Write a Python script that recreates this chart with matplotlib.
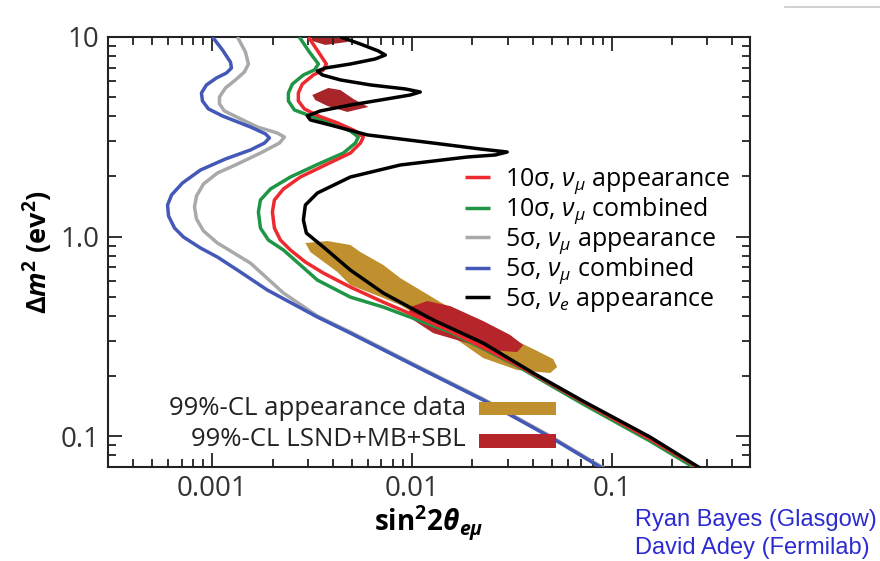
import matplotlib
matplotlib.use('Agg')
import matplotlib.pyplot as plt
from matplotlib.patches import Polygon, Rectangle
from matplotlib.lines import Line2D

plt.rcParams['font.family'] = ['Open Sans', 'DejaVu Sans']
plt.rcParams['mathtext.fontset'] = 'custom'
plt.rcParams['mathtext.rm'] = 'Open Sans'
plt.rcParams['mathtext.it'] = 'Open Sans:italic'
plt.rcParams['mathtext.bf'] = 'Open Sans:bold'
plt.rcParams['mathtext.bfit'] = 'Open Sans:italic:bold'

# sensitivity contours (sin^2 2theta, dm^2)
blue_x = [0.00100, 0.001122, 0.001230, 0.001245, 0.001175, 0.001047, 0.000933, 0.000881,
          0.000891, 0.000955, 0.001122, 0.001549, 0.001841, 0.001928, 0.001820, 0.001549,
          0.001161, 0.000871, 0.000708, 0.000624, 0.000596, 0.000603, 0.000646, 0.000716,
          0.000871, 0.001059, 0.001380, 0.001884, 0.00335, 0.00490, 0.01059, 0.02265,
          0.0490, 0.0871, 0.0977]
blue_y = [10.0, 8.61, 7.49, 6.99, 6.60, 6.23, 5.75, 5.24, 4.78, 4.36, 4.02, 3.54, 3.27,
          3.12, 2.94, 2.715, 2.446, 2.154, 1.855, 1.615, 1.438, 1.267, 1.103, 0.994, 0.876,
          0.789, 0.664, 0.539, 0.395, 0.328, 0.2218, 0.1515, 0.0989, 0.070, 0.0653]

gray_x = [0.001334, 0.001462, 0.001514, 0.001445, 0.001303, 0.001161, 0.001084, 0.001084,
          0.001148, 0.001349, 0.001679, 0.002113, 0.002291, 0.002163, 0.001738, 0.001303,
          0.001059, 0.000902, 0.000832, 0.000813, 0.000832, 0.000902, 0.001059, 0.001549,
          0.002265, 0.00335, 0.00490, 0.01059, 0.02265, 0.0490, 0.0871, 0.0977]
gray_y = [10.0, 8.41, 7.32, 6.68, 6.09, 5.55, 5.00, 4.62, 4.26, 3.93, 3.54, 3.30, 3.15,
          2.94, 2.62, 2.283, 2.081, 1.834, 1.596, 1.406, 1.224, 1.066, 0.928, 0.736, 0.521,
          0.3995, 0.332, 0.2244, 0.1533, 0.100, 0.0708, 0.0660]

red_x = [0.00302, 0.00339, 0.003715, 0.00359, 0.00320, 0.002818, 0.00269, 0.00269,
         0.002884, 0.00339, 0.00422, 0.00519, 0.00569, 0.00550, 0.00490, 0.00367, 0.002754,
         0.002265, 0.002042, 0.001995, 0.002042, 0.002188, 0.002455, 0.002917, 0.00359,
         0.00490, 0.00716, 0.01549, 0.0335, 0.0716, 0.1549, 0.266, 0.2917]
red_y = [10.0, 8.41, 7.32, 6.83, 6.45, 5.81, 5.24, 4.78, 4.36, 4.02, 3.71, 3.38, 3.15,
         2.94, 2.62, 2.283, 1.987, 1.730, 1.524, 1.327, 1.103, 0.960, 0.856, 0.745, 0.656,
         0.558, 0.469, 0.337, 0.2270, 0.1480, 0.0966, 0.0700, 0.0655]

green_x = [0.00272, 0.003055, 0.00339, 0.003236, 0.002851, 0.002512, 0.002399, 0.002399,
           0.002570, 0.00309, 0.00389, 0.00490, 0.00537, 0.00519, 0.00452, 0.00331,
           0.002455, 0.001950, 0.001738, 0.001698, 0.001738, 0.001905, 0.002265, 0.002754,
           0.00335, 0.00490, 0.00716, 0.01549, 0.0335, 0.0716, 0.1549, 0.2917]
green_y = [10.0, 8.41, 7.32, 6.83, 6.45, 5.81, 5.24, 4.78, 4.31, 4.02, 3.71, 3.38, 3.15,
           2.94, 2.62, 2.283, 1.987, 1.730, 1.524, 1.327, 1.103, 0.960, 0.856, 0.720, 0.605,
           0.497, 0.443, 0.332, 0.2244, 0.1446, 0.0944, 0.0645]

black_x = [0.00437, 0.00550, 0.00676, 0.00733, 0.00653, 0.00490, 0.00367, 0.00335, 0.00355,
           0.00437, 0.00617, 0.00923, 0.01096, 0.00977, 0.00692, 0.00490, 0.00347, 0.002985,
           0.00309, 0.00389, 0.00596, 0.01274, 0.02188, 0.02985, 0.0260, 0.01884, 0.00871,
           0.00490, 0.00335, 0.002917, 0.002851, 0.002951, 0.00359, 0.00490, 0.00716,
           0.01274, 0.02265, 0.0403, 0.0716, 0.1549, 0.266, 0.2917]
black_y = [10.0, 9.22, 8.51, 8.12, 7.76, 7.32, 6.99, 6.75, 6.45, 6.09, 5.75, 5.49, 5.30,
           5.12, 4.83, 4.56, 4.26, 4.02, 3.84, 3.62, 3.23, 2.94, 2.746, 2.652, 2.562, 2.503,
           2.283, 1.987, 1.652, 1.438, 1.210, 1.041, 0.886, 0.679, 0.521, 0.3815, 0.2925,
           0.207, 0.1497, 0.0989, 0.0707, 0.0668]

# allowed regions
gold_x = [0.002917, 0.00376, 0.00490, 0.00550, 0.00716, 0.00871, 0.01549, 0.02754, 0.0403,
          0.0507, 0.0531, 0.0490, 0.0335, 0.02265, 0.01549, 0.00871, 0.00716, 0.00490,
          0.00422, 0.00309]
gold_y = [0.928, 0.949, 0.907, 0.836, 0.720, 0.619, 0.438, 0.328, 0.273, 0.2432, 0.2218,
          0.207, 0.2143, 0.246, 0.321, 0.453, 0.492, 0.571, 0.664, 0.836]

lsnd_x = [0.00977, 0.01189, 0.01549, 0.02265, 0.0309, 0.0359, 0.0335, 0.02455, 0.01884,
          0.01274, 0.01012, 0.00966]
lsnd_y = [0.443, 0.475, 0.448, 0.377, 0.321, 0.2858, 0.2636, 0.2699, 0.2925, 0.328,
          0.3815, 0.418]

blob_mid_x = [0.00316, 0.00380, 0.00437, 0.00507, 0.00603, 0.00473, 0.00376, 0.00327]
blob_mid_y = [5.12, 5.55, 5.42, 4.89, 4.46, 4.21, 4.51, 4.83]

blob_top_x = [0.00309, 0.00501, 0.00473, 0.00367, 0.00316]
blob_top_y = [10.8, 10.8, 9.44, 9.12, 9.55]

curves = [
    (gray_x, gray_y, '#a9a9a9', r'5σ, $\nu_\mu$ appearance'),
    (blue_x, blue_y, '#4458b8', r'5σ, $\nu_\mu$ combined'),
    (green_x, green_y, '#1e9646', r'10σ, $\nu_\mu$ combined'),
    (red_x, red_y, '#ec2a2f', r'10σ, $\nu_\mu$ appearance'),
    (black_x, black_y, '#000000', r'5σ, $\nu_e$ appearance'),
]
legend_order = [3, 2, 0, 1, 4]

gold_color = '#c0902e'
lsnd_color = '#b5252a'

fig = plt.figure(figsize=(8.8, 5.61), dpi=100)
ax = fig.add_axes([0.1227, 0.1676, 0.7296, 0.7665])
ax.set_xscale('log')
ax.set_yscale('log')

ax.add_patch(Polygon(list(zip(gold_x, gold_y)), closed=True, color=gold_color, lw=0, zorder=1))
ax.add_patch(Polygon(list(zip(lsnd_x, lsnd_y)), closed=True, color=lsnd_color, lw=0, zorder=1.5))
ax.add_patch(Polygon(list(zip(blob_mid_x, blob_mid_y)), closed=True, color='#a8262a', lw=0, zorder=1.5))
ax.add_patch(Polygon(list(zip(blob_top_x, blob_top_y)), closed=True, color='#a8262a', lw=0, zorder=1.5))

handles = []
for cx, cy, col, lab in curves:
    h, = ax.plot(cx, cy, color=col, lw=2.5, label=lab, zorder=3,
                 solid_joinstyle='round', solid_capstyle='butt')
    handles.append(h)

ax.set_xlim(3e-4, 0.49)
ax.set_ylim(0.07, 10)

ax.set_xticks([0.001, 0.01, 0.1], ['0.001', '0.01', '0.1'])
ax.set_yticks([0.1, 1.0, 10], ['0.1', '1.0', '10'])
ax.tick_params(which='both', direction='in', top=True, right=True, width=1.3, colors='#222222')
ax.tick_params(which='major', length=10, labelsize=20, pad=6, labelcolor='#333333')
ax.tick_params(which='minor', length=5.5)
for s in ax.spines.values():
    s.set_linewidth(1.5)
    s.set_color('#222222')

ax.set_xlabel(r'$\mathbf{sin^22}\mathbfit{\theta_{e\mu}}$', fontsize=20, labelpad=0)
ax.set_ylabel(r'$\mathbf{\Delta}\mathbfit{m}^\mathbf{2}$ (ev$^\mathbf{2}$)', fontsize=19.5,
              fontweight='bold', labelpad=4)

ax.legend([handles[i] for i in legend_order], [curves[i][3] for i in legend_order],
          loc='upper left', bbox_to_anchor=(0.556, 0.70), frameon=False, fontsize=18,
          handlelength=1.0, handletextpad=0.6, labelspacing=-0.02, borderpad=0,
          borderaxespad=0)

# region key
ax.text(0.5576, 0.137, '99%-CL appearance data', transform=ax.transAxes, ha='right',
        va='center', fontsize=18.5, color='#222222')
ax.text(0.5576, 0.063, '99%-CL LSND+MB+SBL', transform=ax.transAxes, ha='right',
        va='center', fontsize=18.5, color='#222222')
ax.add_patch(Rectangle((0.578, 0.121), 0.12, 0.030, transform=ax.transAxes,
                       color=gold_color, lw=0, zorder=4))
ax.add_patch(Rectangle((0.578, 0.044), 0.12, 0.033, transform=ax.transAxes,
                       color=lsnd_color, lw=0, zorder=4))

fig.text(0.7216, 0.073, 'Ryan Bayes (Glasgow)', color='#2b2bd1', fontsize=17,
         family='Liberation Sans', va='center')
fig.text(0.7216, 0.023, 'David Adey (Fermilab)', color='#2b2bd1', fontsize=17,
         family='Liberation Sans', va='center')
fig.add_artist(Line2D([0.892, 1.0], [0.987, 0.987], color='#c8c8c8', lw=1.2))

fig.savefig('out.png', dpi=100)
